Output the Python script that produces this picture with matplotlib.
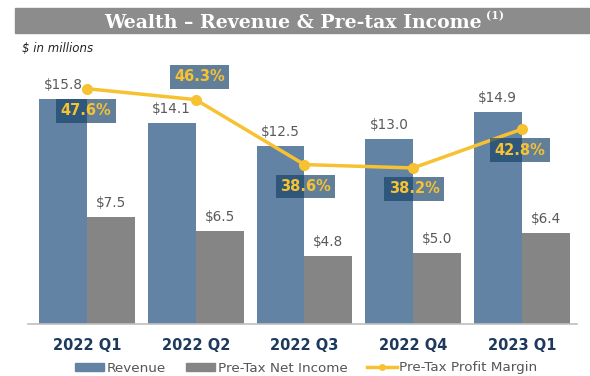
import matplotlib.pyplot as plt
from matplotlib.patches import Rectangle
from matplotlib.lines import Line2D
import numpy as np

quarters = ['2022 Q1', '2022 Q2', '2022 Q3', '2022 Q4', '2023 Q1']
revenue = [15.8, 14.1, 12.5, 13.0, 14.9]
net_income = [7.5, 6.5, 4.8, 5.0, 6.4]
margin = [47.6, 46.3, 38.6, 38.2, 42.8]
# where each margin label box sits relative to its point (pixels)
margin_offsets = [(-1, -22), (4, 23), (1, -22), (1, -21), (-2, -21)]

rev_color = '#6283a3'
ni_color = '#858585'
line_color = '#f7c232'
box_color = '#17426a'
val_color = '#5a5a5a'

W, H = 590, 376
fig = plt.figure(figsize=(W / 100, H / 100), dpi=100)

# title bar
fig.patches.append(Rectangle((15 / W, 1 - 33 / H), 575 / W, 25 / H,
                             transform=fig.transFigure, color='#8c8c8c', zorder=0))
fig.text(482 / W, 1 - 28 / H, 'Wealth \u2013 Revenue & Pre-tax Income',
         ha='right', va='baseline', color='white', fontsize=13.6,
         fontweight='bold', family='DejaVu Serif')
fig.text(486 / W, 1 - 16 / H, '(1)', ha='left', va='center', color='white',
         fontsize=8, fontweight='bold', family='DejaVu Serif')
fig.text(22 / W, 1 - 48 / H, '$ in millions', ha='left', va='center',
         fontsize=8.5, style='italic', color='#222222')

ax = fig.add_axes([28 / W, 52 / H, 549 / W, 264 / H])
x = np.arange(len(quarters))
w = 0.44
bars_r = ax.bar(x - w / 2, revenue, w, color=rev_color, zorder=2)
bars_n = ax.bar(x + w / 2, net_income, w, color=ni_color, zorder=2)
ax.set_xlim(-0.543, 4.508)
ax.set_ylim(0, 18.54)

for b, v in zip(list(bars_r) + list(bars_n), revenue + net_income):
    ax.annotate(f'${v:.1f}', (b.get_x() + b.get_width() / 2, v),
                xytext=(0, 14), textcoords='offset pixels', ha='center',
                va='center', fontsize=9.8, color=val_color)

ax.set_xticks(x)
ax.set_xticklabels(quarters, fontsize=10.5, fontweight='bold', color='#1d3a5c')
ax.tick_params(axis='x', length=0, pad=10)
ax.set_yticks([])
for s in ['top', 'right', 'left']:
    ax.spines[s].set_visible(False)
ax.spines['bottom'].set_color('#bfbfbf')
ax.spines['bottom'].set_linewidth(1.2)

ax2 = ax.twinx()
ax2.set_ylim(19.7, 51.0)
ax2.plot(x, margin, color=line_color, lw=2.5, marker='o', ms=7, zorder=3)
ax2.set_yticks([])
for s in ax2.spines.values():
    s.set_visible(False)
for xi, v, off in zip(x, margin, margin_offsets):
    ax2.annotate(f'{v:.1f}%', (xi, v), xytext=off, textcoords='offset pixels',
                 ha='center', va='center', fontsize=10.5, fontweight='bold',
                 color=line_color, zorder=4,
                 bbox=dict(boxstyle='square,pad=0.3', fc=box_color, ec='none', alpha=0.68))

handles = [
    Rectangle((0, 0), 1, 1, color=rev_color),
    Rectangle((0, 0), 1, 1, color=ni_color),
    Line2D([], [], color=line_color, lw=2.5, marker='o', ms=4),
]
fig.legend(handles, ['Revenue', 'Pre-Tax Net Income', 'Pre-Tax Profit Margin'],
           loc='center', bbox_to_anchor=(306 / W, 1 - 368 / H), ncol=3, frameon=False,
           fontsize=9.7, handlelength=2.2, handleheight=0.5, handletextpad=0.15,
           columnspacing=1.5, labelcolor='#555555')

fig.savefig('out.png', dpi=100)
